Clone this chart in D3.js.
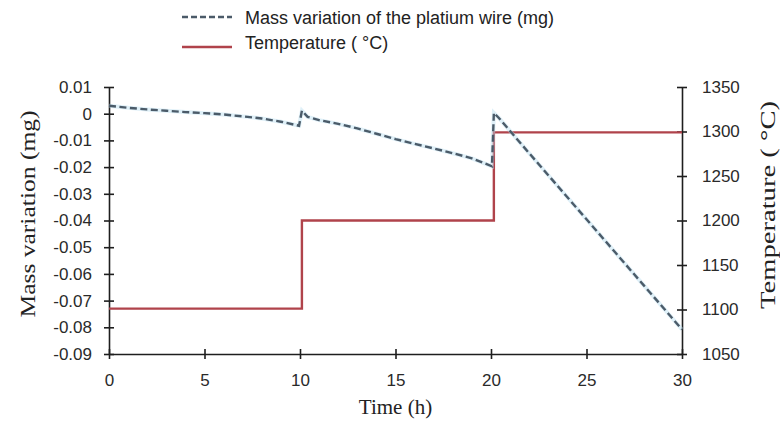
<!DOCTYPE html>
<html>
<head>
<meta charset="utf-8">
<script src="https://cdn.jsdelivr.net/npm/d3@7"></script>
<style>
  html, body { margin: 0; padding: 0; background: #fff; }
  svg { display: block; }
</style>
</head>
<body>
<svg id="chart" width="780" height="421"></svg>
<script>
// ---------------- data ----------------
const timeTicks = [0, 5, 10, 15, 20, 25, 30];
const massTicks = [0.01, 0, -0.01, -0.02, -0.03, -0.04, -0.05, -0.06, -0.07, -0.08, -0.09];
const massTickLabels = ["0.01", "0", "-0.01", "-0.02", "-0.03", "-0.04", "-0.05", "-0.06", "-0.07", "-0.08", "-0.09"];
const tempTicks = [1050, 1100, 1150, 1200, 1250, 1300, 1350];

const massTime  = [0, 1, 2, 3, 4, 5, 6, 7, 8, 9, 9.95, 10.1, 10.4, 11, 12, 13, 14, 15, 16, 17, 18, 19, 20.05, 20.15, 20.4, 22, 24, 26, 28, 30];
const massValue = [0.003, 0.0022, 0.0016, 0.0011, 0.0006, 0.0002, -0.0003, -0.001, -0.0018, -0.003, -0.0045, 0.0011, -0.0012, -0.0024, -0.0038, -0.0055, -0.0075, -0.0095, -0.0113, -0.013, -0.0148, -0.0167, -0.0197, 0.0003, -0.0015, -0.0148, -0.0313, -0.0478, -0.0643, -0.0808];

const tempTime  = [0, 10.1, 10.1, 20.15, 20.15, 30];
const tempValue = [1101, 1101, 1200, 1200, 1299, 1299];

const legendLabels = ["Mass variation of the platium wire (mg)", "Temperature ( \u00B0C)"];
const xTitle = "Time (h)";
const yLeftTitle = "Mass variation (mg)";
const yRightTitle = "Temperature ( \u00B0C)";

// ---------------- drawing ----------------
const svg = d3.select("#chart");
const sans = "'Liberation Sans', Arial, sans-serif";
const serif = "'Liberation Serif', 'Times New Roman', serif";
const axisColor = "#1e1e1e";
const redColor = "#b0434b";
const blueColor = "#4b5b69";

svg.append("rect").attr("width", 780).attr("height", 421).attr("fill", "#fff");

const x = d3.scaleLinear().domain([0, 30]).range([109, 682]);
const yL = d3.scaleLinear().domain([-0.09, 0.01]).range([354, 87]);
const yR = d3.scaleLinear().domain([1050, 1350]).range([354, 87]);

function styleAxis(g) {
  g.select(".domain").attr("stroke", axisColor).attr("stroke-width", 1.6);
  g.selectAll(".tick line").attr("stroke", axisColor).attr("stroke-width", 1.6);
  g.selectAll(".tick text").attr("font-family", sans).attr("font-size", 17).attr("fill", "#2a2a2a");
}

// x axis
const gx = svg.append("g").attr("transform", `translate(0,${yL(-0.09)})`)
  .call(d3.axisBottom(x).tickValues(timeTicks).tickFormat(d3.format("d")).tickSizeInner(5).tickSizeOuter(0).tickPadding(15));
styleAxis(gx);
gx.selectAll(".tick line").attr("y1", -5);

// left axis
const gl = svg.append("g").attr("transform", `translate(${x(0)},0)`)
  .call(d3.axisLeft(yL).tickValues(massTicks).tickFormat((d, i) => massTickLabels[i]).tickSizeInner(5).tickSizeOuter(0).tickPadding(12));
styleAxis(gl);
gl.selectAll(".tick line").attr("x1", 5);

// right axis
const gr = svg.append("g").attr("transform", `translate(${x(30)},0)`)
  .call(d3.axisRight(yR).tickValues(tempTicks).tickFormat(d3.format("d")).tickSizeInner(5).tickSizeOuter(0).tickPadding(15));
styleAxis(gr);
gr.selectAll(".tick line").attr("x1", -5);

// temperature line
const tempData = tempTime.map((t, i) => [t, tempValue[i]]);
svg.append("path").datum(tempData)
  .attr("fill", "none").attr("stroke", redColor).attr("stroke-width", 2.4)
  .attr("d", d3.line().x(d => x(d[0])).y(d => yR(d[1])));

// mass line (light halo + dashed)
const massData = massTime.map((t, i) => [t, massValue[i]]);
const massLine = d3.line().x(d => x(d[0])).y(d => yL(d[1]));
svg.append("path").datum(massData)
  .attr("fill", "none").attr("stroke", "#b9def0").attr("stroke-width", 4).attr("stroke-opacity", 0.45)
  .attr("d", massLine);
svg.append("path").datum(massData)
  .attr("fill", "none").attr("stroke", blueColor).attr("stroke-width", 2.4)
  .attr("stroke-dasharray", "7,3.5")
  .attr("d", massLine);

// axis titles
svg.append("text").attr("x", (x(0) + x(30)) / 2).attr("y", 414)
  .attr("text-anchor", "middle").attr("font-family", serif).attr("font-size", 21).attr("fill", "#222")
  .text(xTitle);

svg.append("text").attr("transform", "translate(35,214) rotate(-90)")
  .attr("text-anchor", "middle").attr("font-family", serif).attr("font-size", 21).attr("fill", "#222")
  .attr("textLength", 207).attr("lengthAdjust", "spacingAndGlyphs")
  .text(yLeftTitle);

svg.append("text").attr("transform", "translate(775,205) rotate(-90)")
  .attr("text-anchor", "middle").attr("font-family", serif).attr("font-size", 21).attr("fill", "#222")
  .attr("textLength", 208).attr("lengthAdjust", "spacingAndGlyphs")
  .text(yRightTitle);

// legend
const lg = svg.append("g");
lg.append("line").attr("x1", 182).attr("x2", 232).attr("y1", 17).attr("y2", 17)
  .attr("stroke", blueColor).attr("stroke-width", 2.4).attr("stroke-dasharray", "6,3");
lg.append("line").attr("x1", 182).attr("x2", 232).attr("y1", 47).attr("y2", 47)
  .attr("stroke", redColor).attr("stroke-width", 2.4);
lg.append("text").attr("x", 245).attr("y", 24).attr("font-family", sans).attr("font-size", 18).attr("fill", "#222")
  .text(legendLabels[0]);
lg.append("text").attr("x", 245).attr("y", 49).attr("font-family", sans).attr("font-size", 18).attr("fill", "#222")
  .text(legendLabels[1]);
</script>
</body>
</html>
